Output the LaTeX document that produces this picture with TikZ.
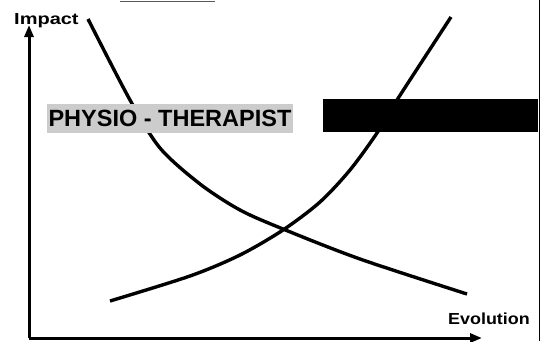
\documentclass[tikz,border=0pt]{standalone}
\usepackage{fontspec}
\setmainfont{Liberation Sans}
\usetikzlibrary{arrows.meta}

\newcommand*{\xorig}{29}
\newcommand*{\yorig}{338}
\newcommand*{\xtip}{482}
\newcommand*{\ytip}{25}

\begin{document}
\begin{tikzpicture}
[
	x=1pt, y=-1pt,
	axis/.style={line width=3pt,-{Triangle[length=12pt,width=9pt]}},
	curve/.style={line width=3.4pt,smooth},
	axislabel/.style={font=\bfseries\fontsize{16}{16}\selectfont,inner sep=0pt},
	labelbox/.style={fill=gray!40,inner sep=0pt,minimum width=246pt,minimum height=29pt,
		font=\bfseries\fontsize{23.5}{23.5}\selectfont},
	hiddenbox/.style={fill=black,inner sep=0pt,minimum width=215pt,minimum height=33pt}
]

	\useasboundingbox (0,0) rectangle (542,341);

	% frame remains
	\draw[line width=0.8pt,gray!70!black] (120,1) -- (215,1);
	\draw[line width=0.8pt] (539,0) -- (539,341);

	% axes
	\coordinate (origin) at (\xorig,\yorig);
	\coordinate (xend) at (\xtip,\yorig);
	\coordinate (yend) at (\xorig,\ytip);
	\draw[axis] (origin) -- (xend);
	\draw[axis] (origin) -- (yend);
	\node[axislabel,anchor=base west] (impact) at (14,24) {\scalebox{1.25}[1]{Impact}};
	\node[axislabel] (evolution) at (489,319) {\scalebox{1.12}[1]{Evolution}};

	% graph
	\draw[curve] plot coordinates {(88,19) (130,100) (160,148) (200,184)
		(240,210) (283,229) (360,259) (467,294)};
	\draw[curve] plot coordinates {(110,301) (190,276) (240,255) (283,230)
		(320,202) (350,170) (377,133) (397,100) (451,17)};

	% boxes
	\node[labelbox] (physio) at (170,118.5) {PHYSIO - THERAPIST};
	\node[hiddenbox] (hidden) at (430.5,115.5) {};

\end{tikzpicture}
\end{document}
